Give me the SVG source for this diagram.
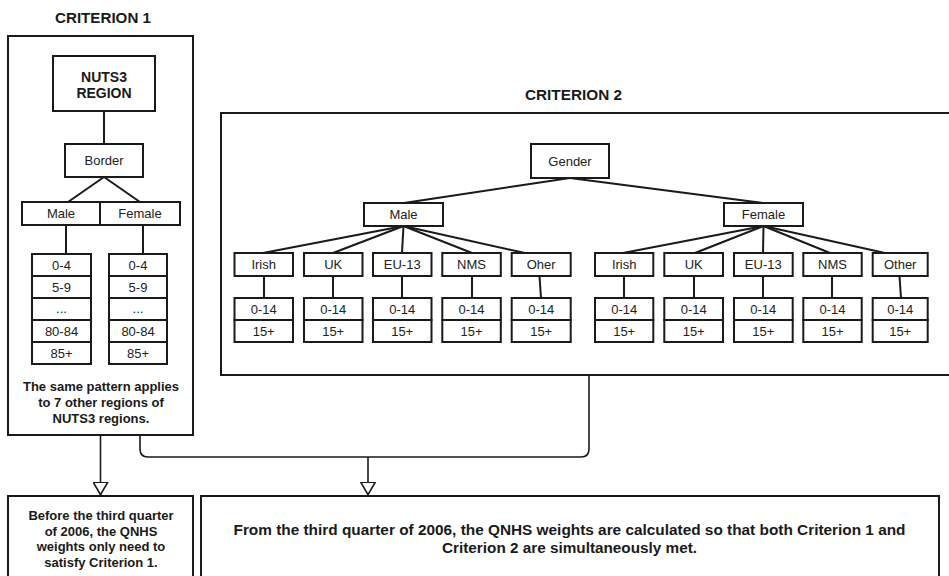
<svg xmlns="http://www.w3.org/2000/svg" width="949" height="576" viewBox="0 0 949 576">
<defs>
<style>
.bx{fill:#fff;stroke:#1a1a1a;stroke-width:2}
.frame{fill:none;stroke:#1a1a1a;stroke-width:2}
.ln{fill:none;stroke:#1a1a1a;stroke-width:2}
.cn{fill:none;stroke:#1a1a1a;stroke-width:1.6}
.t{font-family:"Liberation Sans",Arial,sans-serif;font-size:13px;fill:#222;text-anchor:middle}
.b{font-family:"Liberation Sans",Arial,sans-serif;font-weight:bold;font-size:13px;fill:#1a1a1a;text-anchor:middle}
.h{font-family:"Liberation Sans",Arial,sans-serif;font-weight:bold;font-size:14px;fill:#1a1a1a;text-anchor:middle}
</style>
<marker id="tri" viewBox="0 0 14 16" refX="13.5" refY="8" markerWidth="14" markerHeight="16" markerUnits="userSpaceOnUse" orient="auto">
<path d="M0.8,0.8 L13.2,8 L0.8,15.2 Z" fill="#fff" stroke="#1a1a1a" stroke-width="1.6"/>
</marker>
</defs>
<rect width="949" height="576" fill="#fff"/>

<!-- Criterion 1 -->
<g id="criterion1">
<text class="h" x="103" y="23" textLength="96" lengthAdjust="spacingAndGlyphs">CRITERION 1</text>
<rect class="frame" x="8" y="36" width="185" height="399"/>
<text class="b" x="101" y="391">The same pattern applies</text>
<text class="b" x="101" y="407">to 7 other regions of</text>
<text class="b" x="101" y="423">NUTS3 regions.</text>
</g>
<g id="c1-tree-lines">
<line class="ln" x1="104" y1="111" x2="104" y2="144"/>
<line class="ln" x1="104" y1="177" x2="68" y2="202"/>
<line class="ln" x1="104" y1="177" x2="140" y2="202"/>
<line class="ln" x1="66" y1="225" x2="66" y2="254"/>
<line class="ln" x1="143" y1="225" x2="143" y2="254"/>
</g>
<g id="nuts3">
<rect class="bx" x="53" y="56" width="102" height="55" stroke-width="2.4"/>
<text class="h" x="104" y="82" font-size="15">NUTS3</text>
<text class="h" x="104" y="98" font-size="15">REGION</text>
</g>
<g id="border"><rect class="bx" x="65" y="144" width="78" height="33"/><text class="t" x="104" y="165">Border</text></g>
<g id="c1-male"><rect class="bx" x="22" y="202" width="78" height="23"/><text class="t" x="61" y="218">Male</text></g>
<g id="c1-female"><rect class="bx" x="100" y="202" width="80" height="23"/><text class="t" x="140" y="218">Female</text></g>
<g id="c1-male-ages">
<rect class="bx" x="32" y="254" width="59" height="22"/><text class="t" x="61.5" y="270">0-4</text>
<rect class="bx" x="32" y="276" width="59" height="22"/><text class="t" x="61.5" y="292">5-9</text>
<rect class="bx" x="32" y="298" width="59" height="22"/><text class="t" x="61.5" y="313" font-size="10">...</text>
<rect class="bx" x="32" y="320" width="59" height="22"/><text class="t" x="61.5" y="336">80-84</text>
<rect class="bx" x="32" y="342" width="59" height="22"/><text class="t" x="61.5" y="358">85+</text>
</g>
<g id="c1-female-ages">
<rect class="bx" x="109" y="254" width="58" height="22"/><text class="t" x="138" y="270">0-4</text>
<rect class="bx" x="109" y="276" width="58" height="22"/><text class="t" x="138" y="292">5-9</text>
<rect class="bx" x="109" y="298" width="58" height="22"/><text class="t" x="138" y="313" font-size="10">...</text>
<rect class="bx" x="109" y="320" width="58" height="22"/><text class="t" x="138" y="336">80-84</text>
<rect class="bx" x="109" y="342" width="58" height="22"/><text class="t" x="138" y="358">85+</text>
</g>

<!-- Criterion 2 -->
<g id="criterion2">
<text class="h" x="573.5" y="100" textLength="97" lengthAdjust="spacingAndGlyphs">CRITERION 2</text>
<rect class="frame" x="221" y="113" width="740" height="262"/>
</g>
<g id="c2-tree-lines">
<line class="ln" x1="570" y1="178" x2="404" y2="203"/>
<line class="ln" x1="570" y1="178" x2="763" y2="203"/>
<line class="ln" x1="403.5" y1="226" x2="263" y2="253"/>
<line class="ln" x1="403.5" y1="226" x2="333" y2="253"/>
<line class="ln" x1="403.5" y1="226" x2="402" y2="253"/>
<line class="ln" x1="403.5" y1="226" x2="472" y2="253"/>
<line class="ln" x1="403.5" y1="226" x2="525" y2="253"/>
<line class="ln" x1="763.5" y1="226" x2="623" y2="253"/>
<line class="ln" x1="763.5" y1="226" x2="695" y2="253"/>
<line class="ln" x1="763.5" y1="226" x2="763" y2="253"/>
<line class="ln" x1="763.5" y1="226" x2="830" y2="253"/>
<line class="ln" x1="763.5" y1="226" x2="885" y2="253"/>
<line class="ln" x1="264" y1="276" x2="264" y2="298"/>
<line class="ln" x1="333" y1="276" x2="333" y2="298"/>
<line class="ln" x1="402" y1="276" x2="402" y2="298"/>
<line class="ln" x1="472" y1="276" x2="472" y2="298"/>
<line class="ln" x1="539.5" y1="276" x2="541" y2="298"/>
<line class="ln" x1="624" y1="276" x2="624" y2="298"/>
<line class="ln" x1="694" y1="276" x2="694" y2="298"/>
<line class="ln" x1="763" y1="276" x2="763" y2="298"/>
<line class="ln" x1="832" y1="276" x2="832" y2="298"/>
<line class="ln" x1="899.5" y1="276" x2="901" y2="298"/>
</g>
<g id="gender"><rect class="bx" x="531" y="144" width="78" height="34"/><text class="t" x="570" y="166">Gender</text></g>
<g id="c2-male"><rect class="bx" x="364" y="203" width="79" height="23"/><text class="t" x="403.5" y="219">Male</text></g>
<g id="c2-female"><rect class="bx" x="724" y="203" width="79" height="23"/><text class="t" x="763.5" y="219">Female</text></g>

<g id="m-irish"><rect class="bx" x="234.5" y="253" width="58.5" height="23"/><text class="t" x="263.7" y="269">Irish</text>
<rect class="bx" x="234.5" y="298" width="58.5" height="22"/><text class="t" x="263.7" y="314">0-14</text>
<rect class="bx" x="234.5" y="320" width="58.5" height="22"/><text class="t" x="263.7" y="336">15+</text></g>
<g id="m-uk"><rect class="bx" x="304" y="253" width="58.5" height="23"/><text class="t" x="333.2" y="269">UK</text>
<rect class="bx" x="304" y="298" width="58.5" height="22"/><text class="t" x="333.2" y="314">0-14</text>
<rect class="bx" x="304" y="320" width="58.5" height="22"/><text class="t" x="333.2" y="336">15+</text></g>
<g id="m-eu13"><rect class="bx" x="373" y="253" width="58.5" height="23"/><text class="t" x="402.2" y="269">EU-13</text>
<rect class="bx" x="373" y="298" width="58.5" height="22"/><text class="t" x="402.2" y="314">0-14</text>
<rect class="bx" x="373" y="320" width="58.5" height="22"/><text class="t" x="402.2" y="336">15+</text></g>
<g id="m-nms"><rect class="bx" x="442.3" y="253" width="58.5" height="23"/><text class="t" x="471.5" y="269">NMS</text>
<rect class="bx" x="442.3" y="298" width="58.5" height="22"/><text class="t" x="471.5" y="314">0-14</text>
<rect class="bx" x="442.3" y="320" width="58.5" height="22"/><text class="t" x="471.5" y="336">15+</text></g>
<g id="m-other"><rect class="bx" x="511.7" y="253" width="59" height="23"/><text class="t" x="541.2" y="269">Oher</text>
<rect class="bx" x="511.7" y="298" width="59" height="22"/><text class="t" x="541.2" y="314">0-14</text>
<rect class="bx" x="511.7" y="320" width="59" height="22"/><text class="t" x="541.2" y="336">15+</text></g>

<g id="f-irish"><rect class="bx" x="595" y="253" width="58.3" height="23"/><text class="t" x="624.2" y="269">Irish</text>
<rect class="bx" x="595" y="298" width="58.3" height="22"/><text class="t" x="624.2" y="314">0-14</text>
<rect class="bx" x="595" y="320" width="58.3" height="22"/><text class="t" x="624.2" y="336">15+</text></g>
<g id="f-uk"><rect class="bx" x="664.3" y="253" width="58.7" height="23"/><text class="t" x="693.7" y="269">UK</text>
<rect class="bx" x="664.3" y="298" width="58.7" height="22"/><text class="t" x="693.7" y="314">0-14</text>
<rect class="bx" x="664.3" y="320" width="58.7" height="22"/><text class="t" x="693.7" y="336">15+</text></g>
<g id="f-eu13"><rect class="bx" x="734" y="253" width="58.7" height="23"/><text class="t" x="763.3" y="269">EU-13</text>
<rect class="bx" x="734" y="298" width="58.7" height="22"/><text class="t" x="763.3" y="314">0-14</text>
<rect class="bx" x="734" y="320" width="58.7" height="22"/><text class="t" x="763.3" y="336">15+</text></g>
<g id="f-nms"><rect class="bx" x="803.3" y="253" width="58.4" height="23"/><text class="t" x="832.5" y="269">NMS</text>
<rect class="bx" x="803.3" y="298" width="58.4" height="22"/><text class="t" x="832.5" y="314">0-14</text>
<rect class="bx" x="803.3" y="320" width="58.4" height="22"/><text class="t" x="832.5" y="336">15+</text></g>
<g id="f-other"><rect class="bx" x="872.7" y="253" width="55" height="23"/><text class="t" x="900.2" y="269">Other</text>
<rect class="bx" x="872.7" y="298" width="55" height="22"/><text class="t" x="900.2" y="314">0-14</text>
<rect class="bx" x="872.7" y="320" width="55" height="22"/><text class="t" x="900.2" y="336">15+</text></g>

<!-- Connectors -->
<g id="connectors">
<line class="cn" x1="100.5" y1="435" x2="100.5" y2="495" marker-end="url(#tri)"/>
<path class="cn" d="M140,435 L140,449 Q140,457 148,457 L581,457 Q589,457 589,449 L589,375"/>
<line class="cn" x1="368" y1="457" x2="368" y2="495" marker-end="url(#tri)"/>
</g>

<!-- Outcome boxes -->
<g id="before-2006">
<rect class="frame" x="8" y="496" width="185" height="100"/>
<text class="b" x="101" y="520">Before the third quarter</text>
<text class="b" x="101" y="535.5">of 2006, the QNHS</text>
<text class="b" x="101" y="551">weights only need to</text>
<text class="b" x="101" y="566.5">satisfy Criterion 1.</text>
</g>
<g id="from-2006">
<rect class="frame" x="201" y="496" width="738" height="100"/>
<text class="h" x="569.5" y="535" font-size="15" textLength="672" lengthAdjust="spacingAndGlyphs">From the third quarter of 2006, the QNHS weights are calculated so that both Criterion 1 and</text>
<text class="h" x="569.5" y="552.5" font-size="15" textLength="255" lengthAdjust="spacingAndGlyphs">Criterion 2 are simultaneously met.</text>
</g>
</svg>
